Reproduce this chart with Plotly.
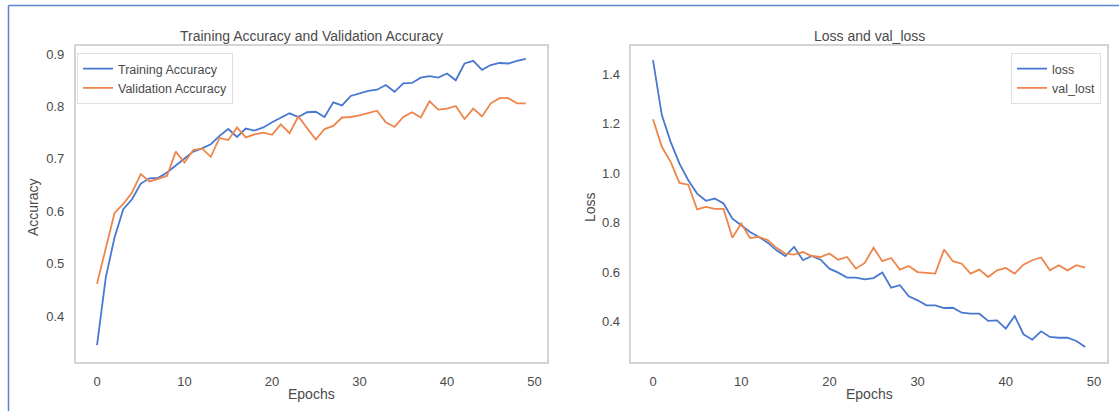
import plotly.graph_objects as go

epochs = list(range(50))

train_acc = [0.345, 0.474, 0.550, 0.604, 0.623, 0.653, 0.663, 0.664, 0.674, 0.687,
             0.700, 0.714, 0.720, 0.728, 0.744, 0.757, 0.742, 0.758, 0.754, 0.760,
             0.770, 0.779, 0.787, 0.780, 0.789, 0.790, 0.780, 0.808, 0.802, 0.820,
             0.825, 0.830, 0.832, 0.841, 0.828, 0.844, 0.845, 0.855, 0.858, 0.855,
             0.863, 0.850, 0.882, 0.887, 0.870, 0.879, 0.883, 0.882, 0.887, 0.891]

val_acc = [0.462, 0.531, 0.597, 0.614, 0.636, 0.671, 0.657, 0.662, 0.668, 0.714,
           0.693, 0.717, 0.720, 0.704, 0.740, 0.736, 0.760, 0.741, 0.747, 0.750,
           0.746, 0.766, 0.749, 0.781, 0.759, 0.737, 0.757, 0.763, 0.779, 0.780,
           0.783, 0.787, 0.792, 0.770, 0.761, 0.780, 0.789, 0.779, 0.810, 0.794,
           0.796, 0.801, 0.776, 0.796, 0.781, 0.806, 0.816, 0.816, 0.806, 0.806]

loss = [1.456, 1.234, 1.126, 1.038, 0.971, 0.917, 0.888, 0.897, 0.877, 0.816,
        0.789, 0.762, 0.742, 0.719, 0.688, 0.665, 0.702, 0.648, 0.665, 0.650,
        0.614, 0.598, 0.578, 0.578, 0.571, 0.576, 0.598, 0.537, 0.547, 0.502,
        0.486, 0.466, 0.466, 0.455, 0.456, 0.436, 0.432, 0.432, 0.403, 0.405,
        0.372, 0.423, 0.349, 0.327, 0.361, 0.338, 0.335, 0.335, 0.322, 0.298]

val_loss = [1.217, 1.106, 1.045, 0.960, 0.953, 0.853, 0.863, 0.855, 0.855, 0.739,
            0.796, 0.738, 0.742, 0.729, 0.698, 0.675, 0.671, 0.681, 0.665, 0.661,
            0.675, 0.650, 0.661, 0.614, 0.637, 0.698, 0.644, 0.657, 0.610, 0.625,
            0.600, 0.598, 0.594, 0.691, 0.644, 0.634, 0.594, 0.610, 0.580, 0.607,
            0.617, 0.594, 0.630, 0.648, 0.659, 0.607, 0.628, 0.607, 0.628, 0.618]

x_ticks = [0, 10, 20, 30, 40, 50]
acc_ticks = [0.4, 0.5, 0.6, 0.7, 0.8, 0.9]
loss_ticks = [0.4, 0.6, 0.8, 1.0, 1.2, 1.4]

BLUE = "#4878d0"
ORANGE = "#ee854a"
TXT = "#4a4a4a"
SPINE = "#d4d4d4"
FONT = "Liberation Sans, Arial, sans-serif"

W, H = 1119, 411


def px(x):
    return x / W


def py(y):
    return 1 - y / H


fig = go.Figure()
fig.add_trace(go.Scatter(x=epochs, y=train_acc, mode="lines", name="Training Accuracy",
                         line=dict(color=BLUE, width=1.8), xaxis="x", yaxis="y", legend="legend"))
fig.add_trace(go.Scatter(x=epochs, y=val_acc, mode="lines", name="Validation Accuracy",
                         line=dict(color=ORANGE, width=1.8), xaxis="x", yaxis="y", legend="legend"))
fig.add_trace(go.Scatter(x=epochs, y=loss, mode="lines", name="loss",
                         line=dict(color=BLUE, width=1.8), xaxis="x2", yaxis="y2", legend="legend2"))
fig.add_trace(go.Scatter(x=epochs, y=val_loss, mode="lines", name="val_lost",
                         line=dict(color=ORANGE, width=1.8), xaxis="x2", yaxis="y2", legend="legend2"))

axis_common = dict(showgrid=False, zeroline=False, showline=True, linecolor=SPINE, linewidth=1.5,
                   mirror=True, ticks="outside", ticklen=7, tickcolor="rgba(0,0,0,0)",
                   tickfont=dict(family=FONT, size=13, color=TXT))

y_top, y_bot = 46, 362
fig.update_layout(
    width=W, height=H,
    margin=dict(l=0, r=0, t=0, b=0),
    paper_bgcolor="white", plot_bgcolor="white",
    font=dict(family=FONT, color=TXT),
    xaxis=dict(domain=[px(75.6), px(547.2)], range=[-2.45, 51.45], tickvals=x_ticks,
               anchor="y", **axis_common),
    yaxis=dict(domain=[py(y_bot), py(y_top)], range=[0.3126, 0.9154], tickvals=acc_ticks,
               tickformat=".1f", anchor="x", **axis_common),
    xaxis2=dict(domain=[px(631.4), px(1106.8)], range=[-2.45, 51.45], tickvals=x_ticks,
                anchor="y2", **axis_common),
    yaxis2=dict(domain=[py(y_bot), py(y_top)], range=[0.237, 1.513], tickvals=loss_ticks,
                tickformat=".1f", anchor="x2", **axis_common),
    legend=dict(x=px(77), y=py(53), xanchor="left", yanchor="top", bgcolor="white",
                bordercolor="#e0e0e0", borderwidth=1, font=dict(family=FONT, size=12.5, color=TXT),
                tracegroupgap=0, itemwidth=30),
    legend2=dict(x=px(1101), y=py(53), xanchor="right", yanchor="top", bgcolor="white",
                 bordercolor="#e0e0e0", borderwidth=1, font=dict(family=FONT, size=12.5, color=TXT),
                 tracegroupgap=0, itemwidth=30),
    showlegend=True,
)

annos = [
    dict(text="Training Accuracy and Validation Accuracy", x=px(311), y=py(36)),
    dict(text="Loss and val_loss", x=px(869), y=py(36)),
    dict(text="Epochs", x=px(311), y=py(394)),
    dict(text="Epochs", x=px(869), y=py(394)),
    dict(text="Accuracy", x=px(33), y=py(207), textangle=-90),
    dict(text="Loss", x=px(590), y=py(207), textangle=-90),
]
for a in annos:
    fig.add_annotation(xref="paper", yref="paper", showarrow=False, xanchor="center",
                       yanchor="middle", font=dict(family=FONT, size=14, color=TXT), **a)

# screenshot frame (blue border)
fig.add_shape(type="line", xref="paper", yref="paper", x0=px(8.5), x1=1.0, y0=py(5.5), y1=py(5.5),
              line=dict(color="#5a86d0", width=1.5))
fig.add_shape(type="line", xref="paper", yref="paper", x0=px(8.5), x1=px(8.5), y0=0, y1=py(5.5),
              line=dict(color="#5a86d0", width=1.5))

fig.write_html("out.html", config={"displayModeBar": False},
               post_script="document.body.style.margin='0';document.body.style.padding='0';")
